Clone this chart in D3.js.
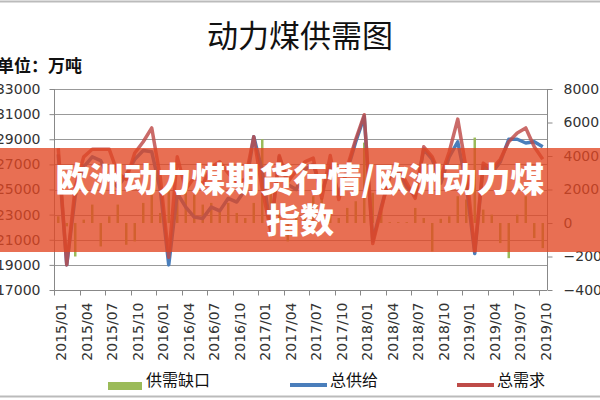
<!DOCTYPE html>
<html lang="zh">
<head>
  <meta charset="UTF-8">
  <title>动力煤供需图</title>
  <style>
    html, body { margin: 0; padding: 0; background: #fff; }
    svg { display: block; }
    .axis text { font-family: "DejaVu Sans", Verdana, sans-serif; font-size: 14px; fill: #333; }
    .axis path, .axis line { stroke: #888; }
    .cjk { font-family: "Noto Sans CJK SC", sans-serif; }
  </style>
</head>
<body>
  <svg id="chart" width="600" height="400"></svg>

  <script src="https://cdn.jsdelivr.net/npm/d3@7"></script>
  <script>
    // months 2015/01 .. 2019/10
    const months = [];
    for (let y = 2015; y <= 2019; y++) {
      for (let m = 1; m <= 12; m++) {
        if (y === 2019 && m > 10) break;
        months.push(y + "/" + String(m).padStart(2, "0"));
      }
    }

    // 总供给 (万吨)
    const supply = [
      27800, 19000, 24500, 26800, 27600, 27300, 25800, 25200, 26200, 27400, 28100, 28000,
      25000, 19000, 24700, 23600, 22800, 22700, 23600, 23300, 24300, 24000, 25000, 29200,
      26500, 21800, 27600, 25400, 25000, 26600, 27000, 24800, 26800, 24600, 26500, 28800,
      30800, 20900, 23600, 26000, 26500, 25200, 24500, 28200, 27400, 25500, 27600, 28800,
      25400, 19900, 26900, 26300, 27200, 29000, 29000, 28700, 28800, 28400
    ];

    // 总需求 (万吨)
    const demand = [
      28300, 19000, 25200, 27600, 28200, 28200, 28200, 26300, 25800, 27900, 28800, 29900,
      26000, 19600, 27600, 25000, 26000, 25400, 26800, 27200, 26300, 25600, 25800, 29200,
      25000, 21700, 27700, 25600, 26500, 27200, 27500, 24300, 27700, 24200, 26800, 29000,
      30950, 20700, 23400, 26200, 26800, 25500, 24300, 28400, 27600, 26000, 28000, 30600,
      26600, 20100, 27100, 26600, 27400, 28800, 29500, 29900, 28400, 27400
    ];

    // 供需缺口 (right axis)
    const gap = [
      400, -200, -2000, 200, 1100, -1400, 400, 1100, -1300, -1100, 1200, 1700,
      600, 2300, 1700, 1900, 1700, 1100, 1200, 700, 1200, 600, 300, 1200,
      5000, 1800, 600, -1100, 300, 900, 1600, 1500, 600, 300, 900, 1300,
      4800, 1800, 700, 50, 50, 50, 900, 300, -1700, 250, 400, 1600,
      1400, 5100, 800, 500, -1200, -2100, 500, 1600, -900, -1500
    ];

    const leftTicks = d3.range(17000, 33001, 2000);
    const rightTicks = d3.range(-4000, 8001, 2000);
    const legendItems = ["供需缺口", "总供给", "总需求"];

    const svg = d3.select("#chart");
    const plot = { left: 54, right: 547, top: 89, bottom: 290 };

    const x = d3.scaleBand().domain(months).range([plot.left, plot.right]);
    const yL = d3.scaleLinear().domain([17000, 33000]).range([plot.bottom, plot.top]);
    const yR = d3.scaleLinear().domain([-4000, 8000]).range([plot.bottom, plot.top]);
    const cx = d => x(d) + x.bandwidth() / 2;

    // frame lines
    svg.append("line").attr("x1", 0).attr("x2", 600).attr("y1", 1.5).attr("y2", 1.5)
      .attr("stroke", "#bbb").attr("stroke-width", 2);
    svg.append("line").attr("x1", 0).attr("x2", 600).attr("y1", 396.5).attr("y2", 396.5)
      .attr("stroke", "#bbb").attr("stroke-width", 2);

    // title
    svg.append("text").attr("class", "cjk")
      .attr("x", 300).attr("y", 47).attr("text-anchor", "middle")
      .attr("font-size", 31).attr("fill", "#111")
      .text("动力煤供需图");

    svg.append("text").attr("class", "cjk")
      .attr("x", -3).attr("y", 72).attr("font-size", 17).attr("font-weight", 700)
      .attr("fill", "#111")
      .text("单位：万吨");

    // gridlines
    svg.append("g").selectAll("line").data(leftTicks).join("line")
      .attr("x1", plot.left).attr("x2", plot.right)
      .attr("y1", d => Math.round(yL(d)) + 0.5).attr("y2", d => Math.round(yL(d)) + 0.5)
      .attr("stroke", "#999");

    // left axis
    svg.append("g").attr("class", "axis")
      .attr("transform", `translate(${plot.left + 0.5},0)`)
      .call(d3.axisLeft(yL).tickValues(leftTicks).tickSize(5).tickPadding(9).tickFormat(d3.format("d")))
      .call(g => g.select(".domain").attr("d", `M0,${plot.top}V${plot.bottom}`));

    // right axis
    svg.append("g").attr("class", "axis")
      .attr("transform", `translate(${plot.right + 0.5},0)`)
      .call(d3.axisRight(yR).tickValues(rightTicks).tickSize(5).tickPadding(11).tickFormat(d3.format("d")))
      .call(g => g.select(".domain").attr("d", `M0,${plot.top}V${plot.bottom}`));

    // x axis
    const xAxis = svg.append("g").attr("class", "axis")
      .attr("transform", `translate(0,${plot.bottom + 0.5})`);
    xAxis.append("line").attr("x1", plot.left).attr("x2", plot.right).attr("stroke", "#888");
    const tickMonths = months.filter((d, i) => i % 3 === 0);
    xAxis.selectAll(".tk").data(tickMonths).join("line").attr("class", "tk")
      .attr("x1", d => Math.round(x(d)) + 0.5).attr("x2", d => Math.round(x(d)) + 0.5)
      .attr("y1", 0).attr("y2", 5).attr("stroke", "#888");
    xAxis.selectAll("text").data(tickMonths).join("text")
      .attr("transform", d => `translate(${cx(d) + 3},12) rotate(-90)`)
      .attr("text-anchor", "end").attr("dy", "0.35em")
      .text(d => d);

    // bars: 供需缺口
    svg.append("g").selectAll("rect").data(gap).join("rect")
      .attr("x", (d, i) => cx(months[i]) - 1.25)
      .attr("width", 2.5)
      .attr("y", d => yR(Math.max(0, d)))
      .attr("height", d => Math.abs(yR(d) - yR(0)))
      .attr("fill", "#9bbb59");

    // lines
    const line = d3.line().x((d, i) => cx(months[i])).y(d => yL(d));
    svg.append("path").datum(supply).attr("d", line)
      .attr("fill", "none").attr("stroke", "#4a7ebb").attr("stroke-width", 3.5)
      .attr("stroke-linejoin", "round");
    svg.append("path").datum(demand).attr("d", line)
      .attr("fill", "none").attr("stroke", "#be4b48").attr("stroke-width", 3.5)
      .attr("stroke-linejoin", "round").attr("stroke-opacity", 0.82);

    // legend
    const lg = svg.append("g").attr("class", "cjk").attr("font-size", 16).attr("fill", "#111");
    lg.append("rect").attr("x", 108).attr("y", 382).attr("width", 34).attr("height", 8).attr("fill", "#9bbb59");
    lg.append("text").attr("x", 146).attr("y", 386).text(legendItems[0]);
    lg.append("line").attr("x1", 290).attr("x2", 327).attr("y1", 385).attr("y2", 385)
      .attr("stroke", "#4a7ebb").attr("stroke-width", 4);
    lg.append("text").attr("x", 330).attr("y", 386).text(legendItems[1]);
    lg.append("line").attr("x1", 457).attr("x2", 494).attr("y1", 385).attr("y2", 385)
      .attr("stroke", "#be4b48").attr("stroke-width", 4);
    lg.append("text").attr("x", 497).attr("y", 386).text(legendItems[2]);

    // overlay banner
    svg.append("rect").attr("x", 0).attr("y", 148).attr("width", 600).attr("height", 104)
      .attr("fill", "rgb(226,70,35)").attr("fill-opacity", 0.78);
    const banner = svg.append("text").attr("class", "cjk")
      .attr("text-anchor", "middle").attr("font-size", 34).attr("font-weight", 900)
      .attr("fill", "#fff");
    banner.append("tspan").attr("x", 300).attr("y", 192).text("欧洲动力煤期货行情/欧洲动力煤");
    banner.append("tspan").attr("x", 300).attr("y", 233).text("指数");
  </script>
</body>
</html>
